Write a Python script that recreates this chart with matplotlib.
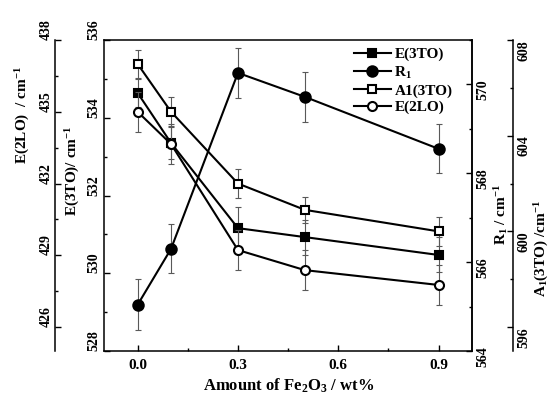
import matplotlib.pyplot as plt

# Fe2O3 content and the four Raman band positions
fe2o3 = [0.0, 0.1, 0.3, 0.5, 0.9]
e3to = [534.64, 533.35, 531.16, 530.93, 530.47]
e3to_err = [0.36, 0.4, 0.54, 0.45, 0.45]
r1 = [565.04, 566.30, 570.26, 569.72, 568.55]
r1_err = [0.57, 0.55, 0.57, 0.56, 0.55]
a1 = [607.0, 605.0, 602.0, 600.9, 600.0]
a1_err = [0.6, 0.6, 0.62, 0.55, 0.6]
e2lo = [435.0, 433.65, 429.22, 428.38, 427.76]
e2lo_err = [0.84, 0.84, 0.84, 0.84, 0.84]

plt.rcParams['font.family'] = 'Liberation Serif'
plt.rcParams['font.weight'] = 'bold'
plt.rcParams['axes.labelweight'] = 'bold'
plt.rcParams['mathtext.fontset'] = 'custom'
plt.rcParams['mathtext.rm'] = 'Liberation Serif:bold'
plt.rcParams['mathtext.it'] = 'Liberation Serif:bold'
plt.rcParams['mathtext.bf'] = 'Liberation Serif:bold'
plt.rcParams['axes.linewidth'] = 1.1
plt.rcParams['xtick.direction'] = 'in'
plt.rcParams['ytick.direction'] = 'in'

fig = plt.figure(figsize=(5.6, 4), dpi=100)
ax = fig.add_axes([0.186, 0.1225, 0.657, 0.7775])
ax_r = ax.twinx()
ax_a = ax.twinx()
ax_e = ax.twinx()

err_kw = dict(fmt='none', ecolor='0.35', elinewidth=0.8, capsize=2.5, capthick=0.8)
line_kw = dict(color='black', lw=1.5)


def draw(axis, y, err, marker, ms, face, label):
    axis.errorbar(fe2o3, y, yerr=err, **err_kw)
    h, = axis.plot(fe2o3, y, marker=marker, ms=ms, mfc=face, mec='black',
                   mew=1.5, label=label, **line_kw)
    return h


h1 = draw(ax, e3to, e3to_err, 's', 5.5, 'black', 'E(3TO)')
h2 = draw(ax_r, r1, r1_err, 'o', 7.5, 'black', r'R$_1$')
h3 = draw(ax_a, a1, a1_err, 's', 6, 'white', 'A1(3TO)')
h4 = draw(ax_e, e2lo, e2lo_err, 'o', 6.5, 'white', 'E(2LO)')

ax.set_xlim(-0.1, 1.0)
ax.set_xticks([0.0, 0.3, 0.6, 0.9])
ax.set_xticks([0.15, 0.45, 0.75], minor=True)
ax.set_xlabel(r'Amount of Fe$_2$O$_3$ / wt%', fontsize=12, labelpad=3)
ax.tick_params(axis='x', labelsize=11, length=4, width=1, pad=6)
ax.tick_params(axis='x', which='minor', length=2.5, width=1)

# E(3TO) on the frame's left side
ax.set_ylim(528, 536)
ax.set_yticks([528, 530, 532, 534, 536])
ax.set_yticks([529, 531, 533, 535], minor=True)
ax.set_ylabel(r'E(3TO)/ cm$^{-1}$', fontsize=11)
ax.yaxis.set_label_coords(-0.06, 0.58)

# R1 on the frame's right side
ax_r.set_ylim(564, 571)
ax_r.set_yticks([564, 566, 568, 570])
ax_r.set_yticks([565, 567, 569, 571], minor=True)
ax_r.set_ylabel(r'R$_1$ / cm$^{-1}$', fontsize=11)
ax_r.yaxis.set_label_coords(1.055, 0.44)

# A1(3TO) on an outer right spine
ax_a.spines['right'].set_position(('axes', 1.111))
ax_a.set_ylim(595, 608)
ax_a.set_yticks([596, 600, 604, 608])
ax_a.set_yticks([598, 602, 606], minor=True)
ax_a.set_ylabel(r'A$_1$(3TO) /cm$^{-1}$', fontsize=11)
ax_a.yaxis.set_label_coords(1.165, 0.33)

# E(2LO) on an outer left spine
ax_e.spines['right'].set_visible(False)
ax_e.spines['left'].set_visible(True)
ax_e.spines['left'].set_position(('axes', -0.133))
ax_e.yaxis.set_ticks_position('left')
ax_e.yaxis.set_label_position('left')
ax_e.set_ylim(425, 438)
ax_e.set_yticks([426, 429, 432, 435, 438])
ax_e.set_yticks([427.5, 430.5, 433.5, 436.5], minor=True)
ax_e.set_ylabel(r'E(2LO)  / cm$^{-1}$', fontsize=11)
ax_e.yaxis.set_label_coords(-0.195, 0.76)

for a in (ax_r, ax_a, ax_e):
    a.spines['top'].set_visible(False)
    a.spines['bottom'].set_visible(False)
ax_a.spines['left'].set_visible(False)
ax_r.spines['left'].set_visible(False)

for a in (ax, ax_r, ax_a, ax_e):
    a.tick_params(axis='y', which='major', labelsize=10, length=4, width=1,
                  labelrotation=90, pad=3)
    a.tick_params(axis='y', which='minor', length=2.5, width=1)
ax_e.tick_params(axis='y', which='major', pad=2)

# tick labels sit a bit off their ticks in the original
for lab in ax.get_yticklabels() + ax_e.get_yticklabels():
    lab.set_va('bottom')
for lab in ax_a.get_yticklabels():
    lab.set_va('top')

ax_e.legend(handles=[h1, h2, h3, h4], loc='upper left',
            bbox_to_anchor=(0.65, 1.01), frameon=False, fontsize=11,
            handlelength=2.4, handletextpad=0.25, labelspacing=0.2,
            borderpad=0.2)

fig.savefig('out.png', dpi=100)
